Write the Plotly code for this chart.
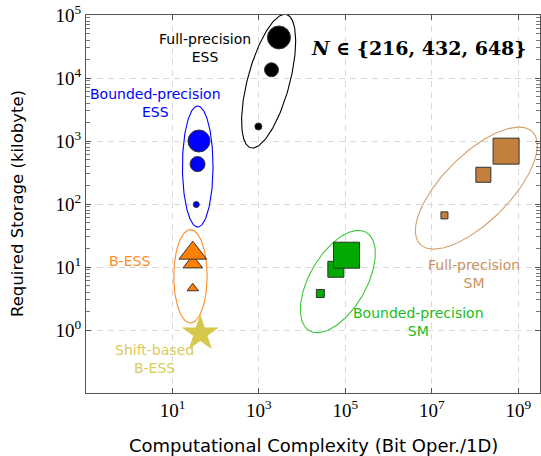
import numpy as np
import plotly.graph_objects as go

# ---------------- data ----------------
fp_ess_x = [970, 1950, 2900]
fp_ess_y = [1700, 13500, 44000]
fp_ess_size = [7, 14, 23]

bp_ess_x = [35.5, 38, 41]
bp_ess_y = [98, 430, 1000]
bp_ess_size = [6, 15, 22]

bess_x = [29.5, 29.5, 29.5]
bess_y = [4.6, 11.3, 16.6]
bess_size = [10, 17, 24]

shift_x = [44]
shift_y = [0.88]

bp_sm_x = [26300, 60000, 106000]
bp_sm_y = [3.8, 9.2, 15.4]
bp_sm_size = [8, 16, 26]

fp_sm_x = [1.95e7, 1.55e8, 5.2e8]
fp_sm_y = [66, 291, 690]
fp_sm_size = [7, 15, 26]

x_tick_vals = [1e1, 1e3, 1e5, 1e7, 1e9]
x_tick_text = ["10<sup>1</sup>", "10<sup>3</sup>", "10<sup>5</sup>", "10<sup>7</sup>", "10<sup>9</sup>"]
y_tick_vals = [1e0, 1e1, 1e2, 1e3, 1e4, 1e5]
y_tick_text = ["10<sup>0</sup>", "10<sup>1</sup>", "10<sup>2</sup>", "10<sup>3</sup>", "10<sup>4</sup>", "10<sup>5</sup>"]

# group ellipses: center (log10 x, log10 y), semi-major px, semi-minor px, tilt deg from vertical
ellipses = [
    (3.224, 3.95, 69.0, 21.0, 15.0, "#000000"),
    (1.584, 2.595, 60.5, 15.3, 0.0, "#0000ff"),
    (1.416, 0.852, 46.7, 16.7, 0.0, "#ff8c26"),
    (4.824, 0.769, 56.8, 28.3, 30.0, "#3cc83c"),
    (8.028, 2.252, 79.5, 33.5, 45.0, "#d4a06c"),
]

W, H = 541, 456
ML, MR, MT, MB = 86, 1, 15, 63
XR = [-1.0, 9.5]
YR = [-1.0, 5.0]
kx = (W - ML - MR) / (XR[1] - XR[0])
ky = (H - MT - MB) / (YR[1] - YR[0])

fig = go.Figure()

t = np.linspace(0, 2 * np.pi, 200)
for cx, cy, a, b, ang, col in ellipses:
    phi = np.deg2rad(ang)
    ux, uy = np.sin(phi), np.cos(phi)
    vx, vy = np.cos(phi), -np.sin(phi)
    px = a * np.cos(t) * ux + b * np.sin(t) * vx
    py = a * np.cos(t) * uy + b * np.sin(t) * vy
    fig.add_trace(go.Scatter(x=10 ** (cx + px / kx), y=10 ** (cy + py / ky), mode="lines",
                             line=dict(color=col, width=1.1), hoverinfo="skip", showlegend=False))

mline = dict(color="#333333", width=1)
def mk(symbol, size, color, line=mline):
    return dict(symbol=symbol, size=size, color=color, line=line, opacity=1)

fig.add_trace(go.Scatter(x=fp_ess_x, y=fp_ess_y, mode="markers", marker=mk("circle", fp_ess_size, "#000000"), showlegend=False))
fig.add_trace(go.Scatter(x=bp_ess_x, y=bp_ess_y, mode="markers", marker=mk("circle", bp_ess_size, "#0000ff"), showlegend=False))
fig.add_trace(go.Scatter(x=bess_x, y=bess_y, mode="markers", marker=mk("triangle-up", bess_size, "#ff7f00"), showlegend=False))
fig.add_trace(go.Scatter(x=shift_x, y=shift_y, mode="markers", marker=mk("star", [28], "#d6c84a", dict(width=0)), showlegend=False))
fig.add_trace(go.Scatter(x=bp_sm_x, y=bp_sm_y, mode="markers", marker=mk("square", bp_sm_size, "#00aa00"), showlegend=False))
fig.add_trace(go.Scatter(x=fp_sm_x, y=fp_sm_y, mode="markers", marker=mk("square", fp_sm_size, "#c27f3e"), showlegend=False))

sans = "DejaVu Sans"
serif = "Liberation Serif"
labels = [
    (1.746, 4.48, "Full-precision<br>ESS", "#000000"),
    (0.598, 3.6, "Bounded-precision<br>ESS", "#0000ff"),
    (0.016, 1.10, "B-ESS", "#ff8c26"),
    (0.59, -0.467, "Shift-based<br>B-ESS", "#d9cc5c"),
    (7.98, 0.896, "Full-precision<br>SM", "#c8945e"),
    (6.70, 0.13, "Bounded-precision<br>SM", "#22bb22"),
]
for lx, ly, txt, col in labels:
    fig.add_annotation(x=lx, y=ly, xref="x", yref="y", text=txt, showarrow=False,
                       font=dict(family=sans, size=14, color=col), align="center")

fig.add_annotation(x=6.69, y=4.47, xref="x", yref="y", text="<b><i>N</i> ∈ {216, 432, 648}</b>",
                   showarrow=False, font=dict(family="DejaVu Serif", size=19, color="#000000"))

fig.add_annotation(x=0.5, y=0, xref="paper", yref="paper", yshift=-52, text="Computational Complexity (Bit Oper./1D)",
                   showarrow=False, font=dict(family=sans, size=18, color="#000000"), yanchor="middle")
fig.add_annotation(x=0, y=0.5, xref="paper", yref="paper", xshift=-69, text="Required Storage (kilobyte)",
                   textangle=-90, showarrow=False, font=dict(family=sans, size=16.5, color="#000000"), xanchor="center")

axis_common = dict(type="log", showline=True, linecolor="#555555", linewidth=1.2, mirror="ticks",
                   ticks="inside", ticklen=5, tickcolor="#555555",
                   showgrid=True, gridcolor="#d9d9d9", gridwidth=1, griddash="6px,5px",
                   zeroline=False, tickfont=dict(family=serif, size=19, color="#000000"))

fig.update_xaxes(range=XR, tickmode="array", tickvals=x_tick_vals, ticktext=x_tick_text, **axis_common)
y_minor = [m * 10 ** d for d in range(0, 5) for m in range(2, 10)]
fig.update_yaxes(range=YR, tickmode="array", tickvals=y_tick_vals, ticktext=y_tick_text,
                 minor=dict(tickmode="array", tickvals=y_minor, ticks="inside", ticklen=3.5,
                            tickcolor="#777777", showgrid=False), **axis_common)

fig.update_layout(width=W, height=H, margin=dict(l=ML, r=MR, t=MT, b=MB, autoexpand=False),
                  plot_bgcolor="white", paper_bgcolor="white", showlegend=False)

fig.write_html("out.html")
